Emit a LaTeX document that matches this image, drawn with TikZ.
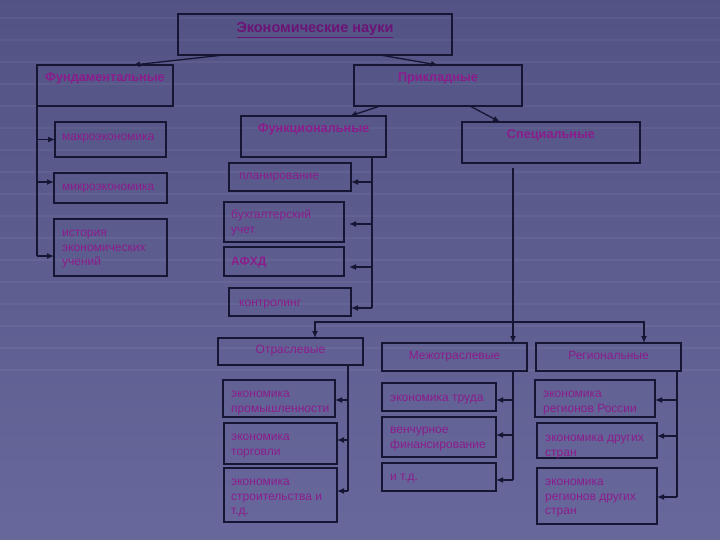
\documentclass[tikz,border=0pt]{standalone}
\usepackage{fontspec}
\setmainfont{Liberation Sans}
\usepackage{tikz}
\usetikzlibrary{arrows.meta,positioning}

\definecolor{bgtop}{RGB}{82,82,132}
\definecolor{bgbot}{RGB}{104,104,156}
\definecolor{txtc}{RGB}{140,28,140}
\definecolor{titlec}{RGB}{108,20,118}
\definecolor{edgec}{RGB}{22,22,52}

\tikzset{
	box/.style = {draw=edgec, line width=1.1pt, rectangle, inner sep=0pt, outer sep=0pt},
	lbl/.style = {text=txtc, inner sep=0pt, align=left, anchor=north west,
		font=\fontsize{12}{14.5}\selectfont},
	head/.style = {text=txtc, inner sep=0pt, anchor=north,
		font=\bfseries\fontsize{12.7}{14.5}\selectfont, execute at begin node=\strut},
	sub/.style = {head, font=\fontsize{12}{14.5}\selectfont},
	stripe/.style = {draw=white, opacity=0.05, line width=1.5pt},
	line/.style = {draw=edgec, line width=1.3pt},
	arr/.style = {line, -{Latex[length=7pt,width=6pt]}}
}

\begin{document}
\begin{tikzpicture}[x=1pt,y=-1pt]

	\useasboundingbox (0,0) rectangle (720,540);
	\shade[top color=bgtop, bottom color=bgbot] (-10,-10) rectangle (730,550);
	\foreach \y in {18,40,...,370}
		\draw[stripe] (-10,\y) -- (730,\y);

	% upper levels
	\node[box, minimum width=274pt, minimum height=41pt] (top) at (315,34.5) {};
	\node[box, minimum width=136pt, minimum height=41pt] (fund) at (105,85.5) {};
	\node[box, minimum width=168pt, minimum height=41pt] (prikl) at (438,85.5) {};
	\node[box, minimum width=145pt, minimum height=41pt] (func) at (313.5,136.5) {};
	\node[box, minimum width=178pt, minimum height=41pt] (spec) at (551,142.5) {};

	\node[head, text=titlec, font=\bfseries\fontsize{14.5}{17}\selectfont, below=6.5pt of top.north] (topT) {\underline{Экономические науки}};
	\node[head, below=6pt of fund.north] (fundT) {Фундаментальные};
	\node[head, below=6pt of prikl.north] (priklT) {Прикладные};
	\node[head, below=6pt of func.north] (funcT) {Функциональные};
	\node[head, below=6pt of spec.north] (specT) {Специальные};

	% fundamental
	\node[box, minimum width=111pt, minimum height=35pt] (makro) at (110.5,139.5) {};
	\node[box, minimum width=113pt, minimum height=30pt] (mikro) at (110.5,188) {};
	\node[box, minimum width=113pt, minimum height=57pt] (istor) at (110.5,247.5) {};
	\node[lbl, below right=8.5pt and 7pt of makro.north west] (makroT) {\strut макроэкономика};
	\node[lbl, below right=7.5pt and 8pt of mikro.north west] (mikroT) {\strut микроэкономика};
	\node[lbl, below right=7.5pt and 8pt of istor.north west] (istorT) {\strut история\\экономических\\учений};

	% functional
	\node[box, minimum width=122pt, minimum height=28pt] (plan) at (290,177) {};
	\node[box, minimum width=120pt, minimum height=40pt] (buh) at (284,222) {};
	\node[box, minimum width=120pt, minimum height=29pt] (afhd) at (284,261.5) {};
	\node[box, minimum width=122pt, minimum height=28pt] (kontr) at (290,302) {};
	\node[lbl, below right=6.5pt and 10pt of plan.north west] (planT) {\strut планирование};
	\node[lbl, below right=6.5pt and 7pt of buh.north west] (buhT) {\strut бухгалтерский\\учет};
	\node[lbl, below right=8pt and 7pt of afhd.north west, font=\bfseries\fontsize{12}{14.5}\selectfont] (afhdT) {\strut АФХД};
	\node[lbl, below right=8.5pt and 10pt of kontr.north west] (kontrT) {\strut контролинг};

	% special
	\node[box, minimum width=145pt, minimum height=27pt] (otr) at (290.5,351.5) {};
	\node[box, minimum width=145pt, minimum height=28pt] (mezh) at (454.5,357) {};
	\node[box, minimum width=145pt, minimum height=28pt] (reg) at (608.5,357) {};
	\node[sub, below=5pt of otr.north] (otrT) {Отраслевые};
	\node[sub, below=6.5pt of mezh.north] (mezhT) {Межотраслевые};
	\node[sub, below=6.5pt of reg.north] (regT) {Региональные};

	\node[box, minimum width=112pt, minimum height=37pt] (p1) at (279,398.5) {};
	\node[box, minimum width=113pt, minimum height=41pt] (p2) at (280.5,443.5) {};
	\node[box, minimum width=113pt, minimum height=54pt] (p3) at (280.5,495) {};
	\node[lbl, below right=7.5pt and 8pt of p1.north west] (p1T) {\strut экономика\\промышленности};
	\node[lbl, below right=7.5pt and 7pt of p2.north west] (p2T) {\strut экономика\\торговли};
	\node[lbl, below right=7.5pt and 7pt of p3.north west] (p3T) {\strut экономика\\строительства и\\т.д.};

	\node[box, minimum width=114pt, minimum height=28pt] (m1) at (439,397) {};
	\node[box, minimum width=114pt, minimum height=40pt] (m2) at (439,437) {};
	\node[box, minimum width=114pt, minimum height=28pt] (m3) at (439,477) {};
	\node[lbl, below right=8.5pt and 8pt of m1.north west] (m1T) {\strut экономика труда};
	\node[lbl, below right=6.5pt and 8pt of m2.north west] (m2T) {\strut венчурное\\финансирование};
	\node[lbl, below right=7.5pt and 8pt of m3.north west] (m3T) {\strut и т.д.};

	\node[box, minimum width=120pt, minimum height=37pt] (r1) at (595,398.5) {};
	\node[box, minimum width=120pt, minimum height=35pt] (r2) at (597,440.5) {};
	\node[box, minimum width=120pt, minimum height=56pt] (r3) at (597,496) {};
	\node[lbl, below right=7.5pt and 8pt of r1.north west] (r1T) {\strut экономика\\регионов России};
	\node[lbl, below right=8.5pt and 8pt of r2.north west] (r2T) {\strut экономика других\\стран};
	\node[lbl, below right=7.5pt and 8pt of r3.north west] (r3T) {\strut экономика\\регионов других\\стран};

	% slanted arrows
	\draw[arr] ([xshift=46pt]top.south west) -- ([xshift=96pt]fund.north west);
	\draw[arr] ([xshift=202pt]top.south west) -- ([xshift=84pt]prikl.north west);
	\draw[arr] ([xshift=26pt]prikl.south west) -- ([xshift=109pt]func.north west);
	\draw[arr] ([xshift=116pt]prikl.south west) -- ([xshift=38pt]spec.north west);

	% fundamental branch
	\path ([yshift=-8.5pt]istor.west) coordinate (fend);
	\draw[line] (fund.south west) -- (fend -| fund.south west);
	\foreach \n/\s in {makro/0,mikro/6,istor/-8.5}{
		\path ([yshift=\s pt]\n.west) coordinate (t);
		\draw[arr] (t -| fund.south west) -- (t);
	}

	% functional branch
	\coordinate (fv) at ([xshift=-14pt]func.south east);
	\path ([yshift=-6pt]kontr.east) coordinate (kend);
	\draw[line] (fv) -- (kend -| fv);
	\foreach \n/\s/\g in {plan/-5/0,buh/-2/5,afhd/-5.5/5,kontr/-6/0}{
		\path ([yshift=\s pt]\n.east) coordinate (t);
		\draw[arr, shorten >=\g pt] (t -| fv) -- (t);
	}

	% special branch
	\coordinate (sv) at ([xshift=-38pt,yshift=-5pt]spec.south);
	\coordinate (hj) at (513,322);
	\draw[arr] (sv) -- (sv |- mezh.north);
	\draw[arr] (hj) -| ([xshift=24.5pt]otr.north);
	\draw[arr] (hj) -| ([xshift=35.5pt]reg.north);

	\coordinate (ov) at ([xshift=57.5pt]otr.south);
	\draw[line] (ov) -- ++(0,126);
	\foreach \n/\s in {p1/-1.5,p2/3.5,p3/4}{
		\path ([yshift=\s pt]\n.east) coordinate (t);
		\draw[arr] (t -| ov) -- (t);
	}

	\coordinate (mv) at ([xshift=58.5pt]mezh.south);
	\draw[line] (mv) -- ++(0,109);
	\foreach \n/\s in {m1/-3,m2/2,m3/-3}{
		\path ([yshift=\s pt]\n.east) coordinate (t);
		\draw[arr] (t -| mv) -- (t);
	}

	\coordinate (rv) at ([xshift=68.5pt]reg.south);
	\draw[line] (rv) -- ++(0,126);
	\foreach \n/\s in {r1/-1.5,r2/4.5,r3/-1}{
		\path ([yshift=\s pt]\n.east) coordinate (t);
		\draw[arr] (t -| rv) -- (t);
	}

\end{tikzpicture}
\end{document}
